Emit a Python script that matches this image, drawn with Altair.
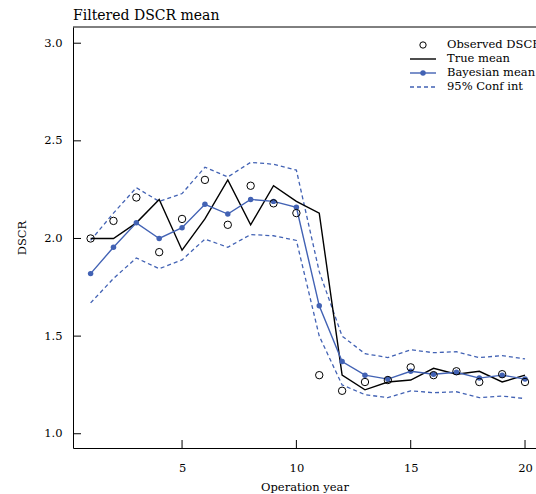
import altair as alt
import pandas as pd

# ---------------- data ----------------
years = list(range(1, 21))
observed = [2.00, 2.09, 2.21, 1.93, 2.10, 2.30, 2.07, 2.27, 2.18, 2.13,
            1.30, 1.22, 1.265, 1.275, 1.34, 1.30, 1.32, 1.265, 1.305, 1.265]
true_mean = [2.00, 2.00, 2.08, 2.20, 1.94, 2.10, 2.30, 2.07, 2.27, 2.19,
             2.13, 1.30, 1.225, 1.265, 1.275, 1.335, 1.305, 1.32, 1.265, 1.30]
bayes_mean = [1.82, 1.955, 2.08, 2.00, 2.055, 2.175, 2.125, 2.20, 2.19, 2.16,
              1.655, 1.37, 1.30, 1.28, 1.32, 1.305, 1.315, 1.285, 1.30, 1.28]
upper_ci = [1.99, 2.13, 2.26, 2.19, 2.23, 2.365, 2.315, 2.39, 2.38, 2.35,
            1.83, 1.50, 1.41, 1.39, 1.43, 1.415, 1.42, 1.39, 1.40, 1.383]
lower_ci = [1.67, 1.795, 1.90, 1.845, 1.89, 1.997, 1.955, 2.02, 2.014, 1.99,
            1.50, 1.25, 1.20, 1.185, 1.22, 1.21, 1.215, 1.185, 1.193, 1.18]

x_ticks = [5, 10, 15, 20]
y_ticks = [1.0, 1.5, 2.0, 2.5, 3.0]
legend_labels = ["Observed DSCR", "True mean", "Bayesian mean", "95% Conf int"]

# ---------------- style ----------------
W, H = 463, 421
XD = [0.23, 20.48]
YD = [0.927, 3.083]
BLUE = "#4262b4"
FONT = "DejaVu Serif"
FS = 11.5

df = pd.DataFrame({
    "year": years, "observed": observed, "true": true_mean,
    "bayes": bayes_mean, "upper": upper_ci, "lower": lower_ci,
})

xscale = alt.Scale(domain=XD, nice=False, zero=False)
yscale = alt.Scale(domain=YD, nice=False, zero=False)

x_axis = alt.Axis(values=x_ticks, ticks=False, grid=False, format="d",
                  labelPadding=14, title="Operation year", titlePadding=8,
                  domainColor="black", labelColor="black", titleColor="black")
y_axis = alt.Axis(values=y_ticks, ticks=False, grid=False, format=".1f",
                  labelPadding=11, title="DSCR", titlePadding=16,
                  domainColor="black", labelColor="black", titleColor="black")


def xe(field):
    return alt.X(f"{field}:Q", scale=xscale, axis=x_axis)


def ye(field):
    return alt.Y(f"{field}:Q", scale=yscale, axis=y_axis)


base = alt.Chart(df)

upper_line = base.mark_line(color=BLUE, strokeDash=[4, 3], strokeWidth=1.3).encode(
    x=xe("year"), y=ye("upper"))
lower_line = base.mark_line(color=BLUE, strokeDash=[4, 3], strokeWidth=1.3).encode(
    x=xe("year"), y=ye("lower"))
true_line = base.mark_line(color="black", strokeWidth=1.4).encode(
    x=xe("year"), y=ye("true"))
bayes_line = base.mark_line(color=BLUE, strokeWidth=1.4).encode(
    x=xe("year"), y=ye("bayes"))
bayes_pts = base.mark_circle(color=BLUE, size=30, opacity=1).encode(
    x=xe("year"), y=ye("bayes"))
obs_pts = base.mark_point(shape="circle", filled=False, color="black", size=55,
                          strokeWidth=1, opacity=1).encode(x=xe("year"), y=ye("observed"))

# inward tick marks
xt = alt.Chart(pd.DataFrame({"v": x_ticks})).mark_rule(color="black", strokeWidth=1).encode(
    x=xe("v"), y=alt.value(H - 8), y2=alt.value(H))
yt = alt.Chart(pd.DataFrame({"v": y_ticks})).mark_rule(color="black", strokeWidth=1).encode(
    y=ye("v"), x=alt.value(0), x2=alt.value(8))
top_frame = alt.Chart(alt.Data(values=[{}])).mark_rule(color="black", strokeWidth=1).encode(
    x=alt.value(0), x2=alt.value(W), y=alt.value(0))

# manual legend
LX_SYM, LX0, LX1, LX_TXT = 350, 337, 363, 374
ROWS = [18, 32, 46, 60]


def ltext(i):
    return alt.Chart(alt.Data(values=[{"t": legend_labels[i]}])).mark_text(
        align="left", baseline="middle", font=FONT, fontSize=FS, color="black").encode(
        text="t:N", x=alt.value(LX_TXT), y=alt.value(ROWS[i]))


one = alt.Data(values=[{}])
leg = [
    alt.Chart(one).mark_point(shape="circle", filled=False, color="black", size=40,
                              strokeWidth=1, opacity=1).encode(
        x=alt.value(LX_SYM), y=alt.value(ROWS[0])),
    alt.Chart(one).mark_rule(color="black", strokeWidth=1.4).encode(
        x=alt.value(LX0), x2=alt.value(LX1), y=alt.value(ROWS[1])),
    alt.Chart(one).mark_rule(color=BLUE, strokeWidth=1.4).encode(
        x=alt.value(LX0), x2=alt.value(LX1), y=alt.value(ROWS[2])),
    alt.Chart(one).mark_circle(color=BLUE, size=30, opacity=1).encode(
        x=alt.value(LX_SYM), y=alt.value(ROWS[2])),
    alt.Chart(one).mark_rule(color=BLUE, strokeWidth=1.3, strokeDash=[4, 3]).encode(
        x=alt.value(LX0), x2=alt.value(LX1), y=alt.value(ROWS[3])),
] + [ltext(i) for i in range(4)]

chart = alt.layer(
    upper_line, lower_line, true_line, bayes_line, bayes_pts, obs_pts,
    xt, yt, top_frame, *leg
).properties(
    width=W, height=H,
    autosize=alt.AutoSizeParams(type="none"),
    padding={"left": 73, "top": 27, "right": 0, "bottom": 46},
    title=alt.TitleParams("Filtered DSCR mean", anchor="start", frame="group", font=FONT,
                          fontSize=14, fontWeight="normal", color="black", offset=4),
).configure_view(stroke=None).configure_axis(
    labelFont=FONT, titleFont=FONT, labelFontSize=FS, titleFontSize=FS,
    titleFontWeight="normal", domainWidth=1
)

chart.save("out.html", embed_options={"renderer": "svg", "actions": False})
